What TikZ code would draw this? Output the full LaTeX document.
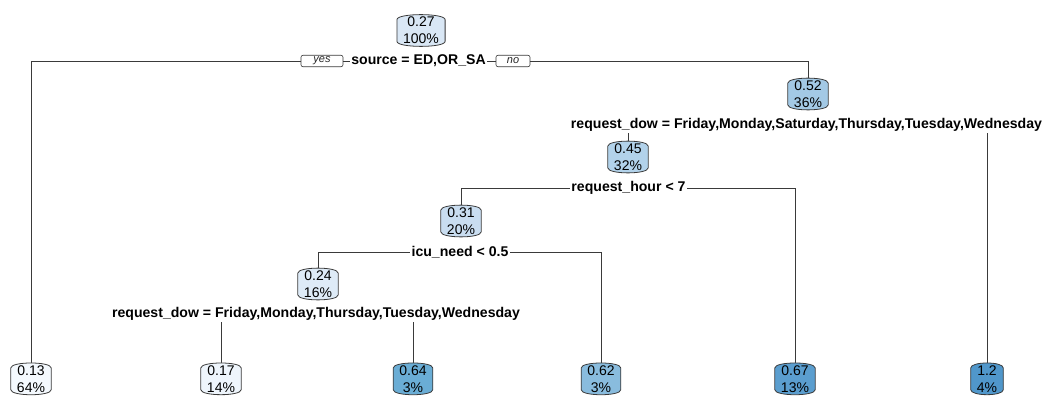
\documentclass[tikz,border=0pt]{standalone}
\usepackage{fontspec}
\setmainfont{Liberation Sans}
\usetikzlibrary{backgrounds}
\definecolor{linec}{HTML}{3A3A3A}
\definecolor{ca}{HTML}{F4F9FE}
\definecolor{cb}{HTML}{EEF5FC}
\definecolor{cc}{HTML}{DEEBF7}
\definecolor{cd}{HTML}{D9E7F5}
\definecolor{ce}{HTML}{C9DDF0}
\definecolor{cf}{HTML}{B2D2EA}
\definecolor{cg}{HTML}{A3C9E5}
\definecolor{ch}{HTML}{89BCDE}
\definecolor{ci}{HTML}{6AADD5}
\definecolor{cj}{HTML}{5B9ECF}
\definecolor{ck}{HTML}{5097CB}
\begin{document}
\begin{tikzpicture}[x=1pt,y=-1pt,
  val/.style={align=center,font=\fontsize{14}{17}\selectfont,inner xsep=6pt,inner ysep=2.2pt},
  leaf/.style={val,anchor=north},
  split/.style={font=\fontsize{14.1}{16}\bfseries\selectfont,inner sep=1.5pt},
  yn/.style={draw=linec,line width=0.6pt,rounded corners=2pt,font=\fontsize{11}{12}\itshape\selectfont,text=black!85,inner sep=0pt,minimum height=11.5pt},
  conn/.style={draw=linec,line width=0.75pt},
  boxline/.style={draw=linec,line width=0.8pt}]
\useasboundingbox (0,0) rectangle (1045,396);

% inner nodes
\node[val] (n1) at (421,30.5) {0.27\\100\%};
\node[split] (s1) at (418.5,61) {source = ED,OR\_SA};
\node[yn,minimum width=42pt] (yes) at (322,61) {yes};
\node[yn,minimum width=34pt] (no) at (513,61) {no};
\node[val] (n2) at (808,94) {0.52\\36\%};
\node[split] (s2) at (806.5,125) {request\_dow = Friday,Monday,Saturday,Thursday,Tuesday,Wednesday};
\node[val] (n3) at (628,157) {0.45\\32\%};
\node[split] (s3) at (628.5,188) {request\_hour < 7};
\node[val] (n4) at (461,221) {0.31\\20\%};
\node[split] (s4) at (460,252) {icu\_need < 0.5};
\node[val] (n5) at (318,284) {0.24\\16\%};
\node[split] (s5) at (316,314) {request\_dow = Friday,Monday,Thursday,Tuesday,Wednesday};

% leaves
\node[leaf] (l1) at (31,363) {0.13\\64\%};
\node[leaf] (l2) at (221,363) {0.17\\14\%};
\node[leaf] (l3) at (413,363) {0.64\\3\%};
\node[leaf] (l4) at (601,363) {0.62\\3\%};
\node[leaf] (l5) at (795,363) {0.67\\13\%};
\node[leaf] (l6) at (987,363) {1.2\\4\%};

\begin{scope}[on background layer]
  \draw[conn] (yes.west) -| (l1.north);
  \draw[conn] (yes.east) -- (s1.west);
  \draw[conn] (s1.east) -- (no.west);
  \draw[conn] (no.east) -| (n2.north);
  \draw[conn] (s2.south -| n3.north) -- (n3.north);
  \draw[conn] (s2.south -| l6.north) -- (l6.north);
  \draw[conn] (s3.west) -| (n4.north);
  \draw[conn] (s3.east) -| (l5.north);
  \draw[conn] (s4.west) -| (n5.north);
  \draw[conn] (s4.east) -| (l4.north);
  \draw[conn] (s5.south -| l2.north) -- (l2.north);
  \draw[conn] (s5.south -| l3.north) -- (l3.north);
  \foreach \n/\c in {n1/cd,n2/cg,n3/cf,n4/ce,n5/cc,l1/ca,l2/cb,l3/ci,l4/ch,l5/cj,l6/ck}{
    \filldraw[boxline,fill=\c]
      ([yshift=-5pt]\n.north west) -- ([yshift=5pt]\n.south west)
      .. controls ([yshift=-1.7pt]\n.south west) and ([yshift=-1.7pt]\n.south east) .. ([yshift=5pt]\n.south east)
      -- ([yshift=-5pt]\n.north east)
      .. controls ([yshift=1.7pt]\n.north east) and ([yshift=1.7pt]\n.north west) .. cycle;
  }
\end{scope}
\end{tikzpicture}
\end{document}
